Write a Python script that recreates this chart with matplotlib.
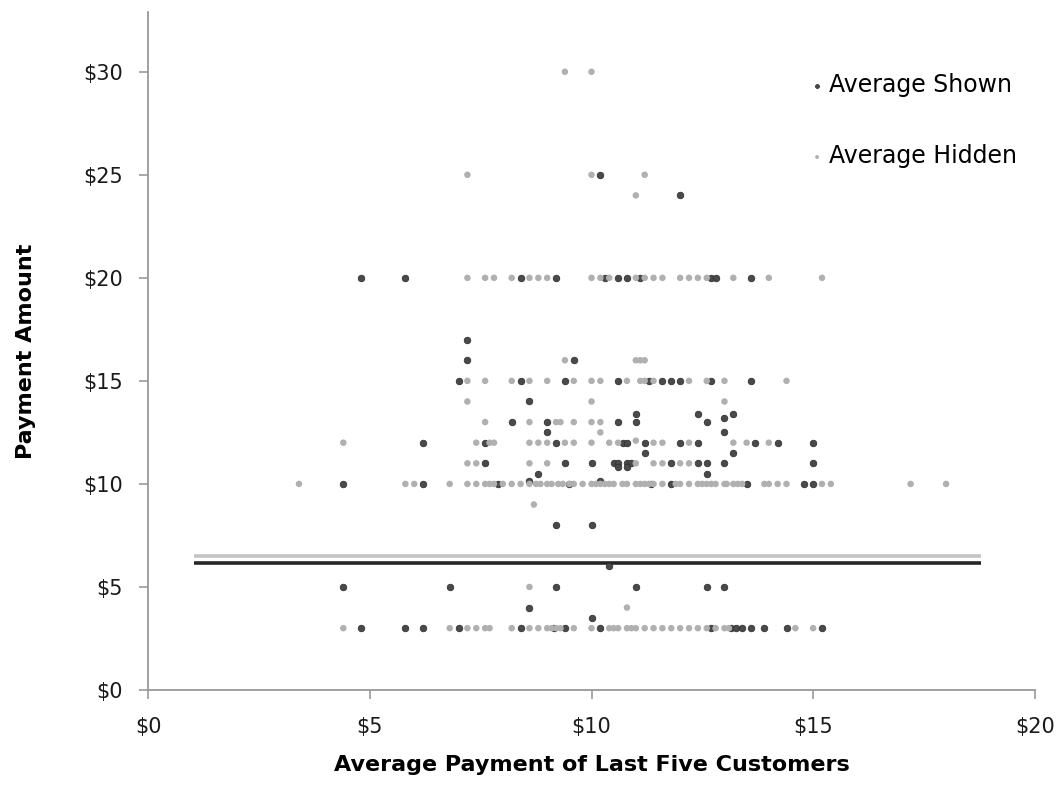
import matplotlib
matplotlib.use("Agg")
from matplotlib import pyplot as plt

# Average shown (dark) points: (avg of last five, payment)
shown_x = [10.2, 12.0,
           4.8, 5.8, 8.4, 9.2, 10.3, 10.6, 10.8, 11.1, 12.7, 12.8, 13.6,
           7.2, 7.2, 9.6,
           7.0, 8.4, 9.4, 10.6, 11.3, 11.6, 11.8, 12.0, 12.7, 13.6,
           8.6, 11.0, 12.4, 13.2, 13.0,
           8.2, 9.0, 10.6, 11.0, 12.6,
           9.0, 13.0,
           6.2, 7.6, 9.2, 10.7, 10.8, 11.2, 12.0, 12.4, 13.7, 14.2, 15.0,
           11.2, 13.2,
           7.6, 9.4, 10.0, 10.5, 10.6, 10.8, 10.9, 11.8, 12.4, 12.6, 13.0, 15.0,
           10.6, 10.8, 8.8, 12.6, 8.6, 10.2,
           4.4, 6.2, 7.9, 9.5, 11.35, 11.8, 13.5, 14.8, 15.0,
           9.2, 10.0, 10.4,
           4.4, 6.8, 9.2, 11.0, 12.6, 13.0,
           8.6, 10.0,
           4.8, 5.8, 6.2, 7.0, 8.4, 9.15, 9.4, 10.2, 12.7, 13.15, 13.25, 13.4,
           13.6, 13.9, 14.4, 15.2]
shown_y = [25, 24,
           20, 20, 20, 20, 20, 20, 20, 20, 20, 20, 20,
           17, 16, 16,
           15, 15, 15, 15, 15, 15, 15, 15, 15, 15,
           14, 13.4, 13.4, 13.4, 13.2,
           13, 13, 13, 13, 13,
           12.5, 12.5,
           12, 12, 12, 12, 12, 12, 12, 12, 12, 12, 12,
           11.5, 11.5,
           11, 11, 11, 11, 11, 11, 11, 11, 11, 11, 11, 11,
           10.8, 10.8, 10.5, 10.5, 10.15, 10.15,
           10, 10, 10, 10, 10, 10, 10, 10, 10,
           8, 8, 6,
           5, 5, 5, 5, 5, 5,
           4, 3.5,
           3, 3, 3, 3, 3, 3, 3, 3, 3, 3, 3, 3,
           3, 3, 3, 3]

# Average hidden (light) points
hidden_x = [9.4, 10.0,
            7.2, 10.0, 11.2, 11.0,
            7.2, 7.6, 7.8, 8.2, 8.6, 8.8, 9.0, 10.0, 10.2, 10.4, 11.0, 11.2,
            11.4, 11.6, 12.0, 12.2, 12.4, 12.6, 13.2, 14.0, 15.2,
            9.4, 11.0, 11.1, 11.2,
            7.2, 7.6, 8.2, 8.6, 9.0, 9.6, 10.0, 10.2, 10.8, 11.1, 11.2, 11.4,
            12.2, 12.6, 13.0, 14.4,
            7.2, 10.0, 13.0,
            7.6, 8.6, 9.2, 9.3, 9.6, 10.0, 10.2,
            10.2, 11.0,
            4.4, 7.4, 7.7, 7.8, 8.6, 8.8, 9.0, 9.4, 9.6, 10.0, 10.4, 10.6,
            11.4, 11.6, 12.2, 13.2, 13.5, 14.0,
            7.2, 7.4, 8.6, 9.0, 11.0, 11.4, 11.6, 12.0, 12.2,
            3.4, 5.8, 6.0, 6.8, 7.2, 7.4, 7.6, 7.7, 7.8, 8.0, 8.2, 8.4, 8.6,
            8.75, 8.85, 9.0, 9.1, 9.25, 9.35, 9.5, 9.6, 9.8, 10.0, 10.1, 10.2,
            10.3, 10.4, 10.5, 10.7, 10.8, 11.0, 11.1, 11.2, 11.3, 11.4, 11.6,
            11.9, 12.0, 12.2, 12.4, 12.5, 12.6, 12.7, 12.8, 13.0, 13.05, 13.2,
            13.3, 13.4, 13.9, 14.0, 14.2, 14.4, 15.2, 15.4, 17.2, 18.0,
            8.7, 8.6, 10.8,
            4.4, 6.8, 7.2, 7.4, 7.6, 7.7, 8.2, 8.6, 8.8, 9.0, 9.1, 9.2, 9.3,
            9.6, 10.0, 10.4, 10.5, 10.6, 10.8, 10.9, 11.0, 11.2, 11.4, 11.6,
            11.8, 12.0, 12.2, 12.4, 12.6, 12.8, 13.0, 13.1, 14.6, 15.0]
hidden_y = [30, 30,
            25, 25, 25, 24,
            20, 20, 20, 20, 20, 20, 20, 20, 20, 20, 20, 20,
            20, 20, 20, 20, 20, 20, 20, 20, 20,
            16, 16, 16, 16,
            15, 15, 15, 15, 15, 15, 15, 15, 15, 15, 15, 15,
            15, 15, 15, 15,
            14, 14, 14,
            13, 13, 13, 13, 13, 13, 13,
            12.5, 12.1,
            12, 12, 12, 12, 12, 12, 12, 12, 12, 12, 12, 12,
            12, 12, 12, 12, 12, 12,
            11, 11, 11, 11, 11, 11, 11, 11, 11,
            10, 10, 10, 10, 10, 10, 10, 10, 10, 10, 10, 10, 10,
            10, 10, 10, 10, 10, 10, 10, 10, 10, 10, 10, 10,
            10, 10, 10, 10, 10, 10, 10, 10, 10, 10, 10,
            10, 10, 10, 10, 10, 10, 10, 10, 10, 10, 10,
            10, 10, 10, 10, 10, 10, 10, 10, 10, 10,
            9, 5, 4,
            3, 3, 3, 3, 3, 3, 3, 3, 3, 3, 3, 3, 3,
            3, 3, 3, 3, 3, 3, 3, 3, 3, 3, 3,
            3, 3, 3, 3, 3, 3, 3, 3, 3, 3]

# horizontal average lines
avg_x = [1.03, 18.79]
shown_avg = 6.18
hidden_avg = 6.52

x_ticks = [0, 5, 10, 15, 20]
x_labels = ['$0', '$5', '$10', '$15', '$20']
y_ticks = [0, 5, 10, 15, 20, 25, 30]
y_labels = ['$0', '$5', '$10', '$15', '$20', '$25', '$30']

plt.rcParams['font.family'] = ['DejaVu Sans']

fig = plt.figure(figsize=(10.6, 7.85), dpi=100)
ax = fig.add_axes([148.3/1060, 1-690/785, (1034.7-148.3)/1060, (690-12)/785])

ax.plot(avg_x, [hidden_avg]*2, color='#c4c4c4', lw=2.6, solid_capstyle='butt', zorder=1)
ax.plot(avg_x, [shown_avg]*2, color='#262626', lw=2.6, solid_capstyle='butt', zorder=1)

ax.scatter(shown_x, shown_y, s=22, c='#4a4a4a', edgecolors='#333333', linewidths=0.6,
           label='Average Shown', zorder=2)
ax.scatter(hidden_x, hidden_y, s=22, c='#b0b0b0', edgecolors='none',
           label='Average Hidden', zorder=3)

ax.set_xlim(0, 20)
ax.set_ylim(0, 32.9)
ax.set_xticks(x_ticks)
ax.set_xticklabels(x_labels)
ax.set_yticks(y_ticks)
ax.set_yticklabels(y_labels)
ax.tick_params(axis='both', direction='out', length=6.5, width=1.2, color='#999999',
               labelsize=15, labelcolor='#1a1a1a')
ax.tick_params(axis='x', pad=13)
ax.tick_params(axis='y', pad=12)

for side in ('top', 'right'):
    ax.spines[side].set_visible(False)
for side in ('left', 'bottom'):
    ax.spines[side].set_color('#999999')
    ax.spines[side].set_linewidth(1.3)

ax.set_xlabel('Average Payment of Last Five Customers', fontsize=16, fontweight='bold',
              labelpad=13)
ax.set_ylabel('Payment Amount', fontsize=16, fontweight='bold', labelpad=34)

leg = fig.legend(loc='upper left', bbox_to_anchor=(810/1060, 1-73/785), frameon=False,
                 fontsize=17, markerscale=0.6, handletextpad=0.2, labelspacing=2.0,
                 handlelength=0.6, borderpad=0, borderaxespad=0)

fig.savefig('out.png')
